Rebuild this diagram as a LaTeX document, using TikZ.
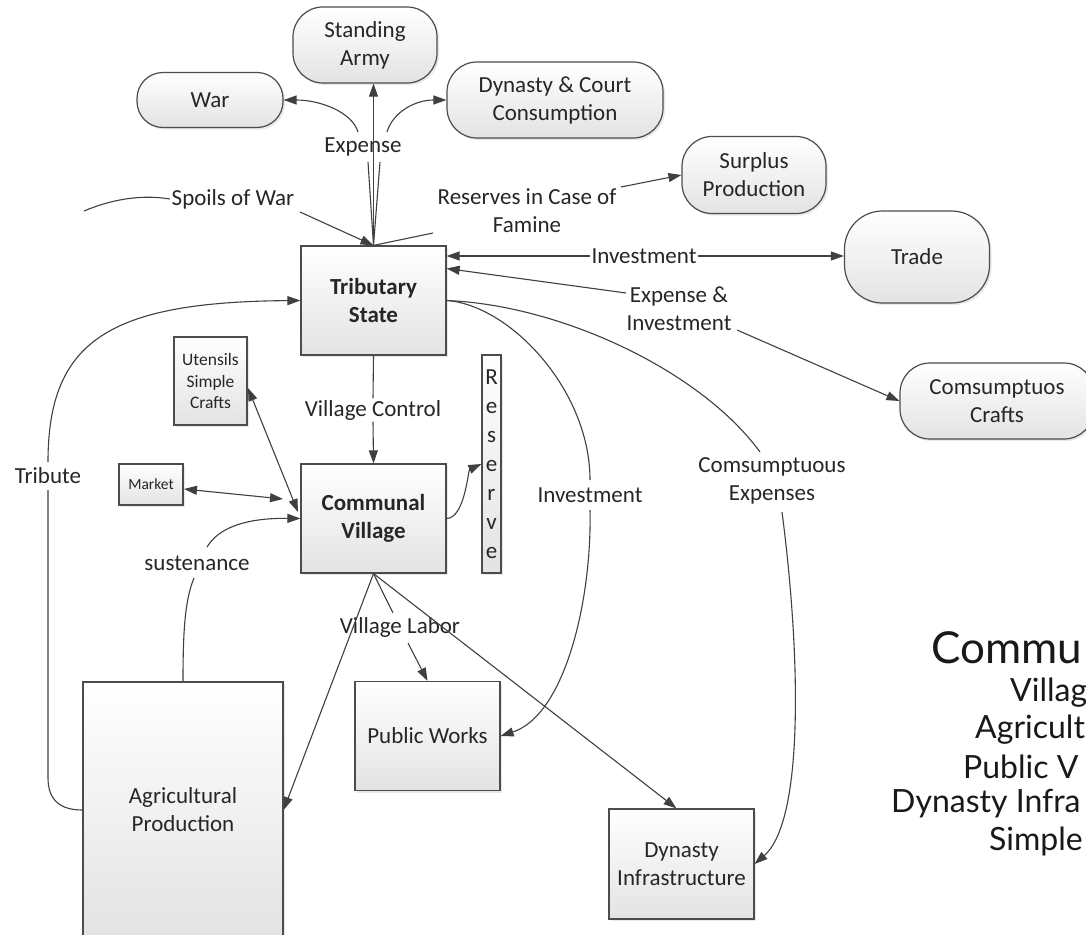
\documentclass[tikz,border=0pt]{standalone}
\usepackage{fontspec}
\setmainfont{Carlito}
\newfontfamily\sidefont{Lato}
\usetikzlibrary{arrows.meta,shadows}
\begin{document}
\begin{tikzpicture}[x=1pt,y=-1pt,
  ln/.style={draw=black!75, line width=1.1pt},
  arr/.style={ln, -{Triangle[length=13pt,width=9pt]}},
  darr/.style={ln, {Triangle[length=13pt,width=9pt]}-{Triangle[length=13pt,width=9pt]}},
  boxbase/.style={draw=black!70, line width=1.2pt, top color=white, bottom color=black!11,
    drop shadow={opacity=0.18,shadow xshift=2pt,shadow yshift=-2pt},
    align=center, inner sep=0pt, font=\fontsize{23}{28}\selectfont, text=black!85},
  pill/.style={boxbase, rounded corners=#1},
  pill/.default=30pt,
  rect/.style={boxbase},
  lbl/.style={align=center, inner sep=1.5pt, font=\fontsize{23}{28}\selectfont, text=black!85},
  side/.style={anchor=west, inner sep=0pt, text=black!90, font=\sidefont\fontsize{#1}{#1}\selectfont},
]
\useasboundingbox (0,0) rectangle (1086,934);
\fill[white] (0,0) rectangle (1086,934);
\begin{scope}
\clip (0,0) rectangle (1086,934);

% ---------- boxes ----------
\node[pill, minimum width=144pt, minimum height=76pt] (SA) at (365,45) {Standing\\Army};
\node[pill=26pt, minimum width=146pt, minimum height=55pt] (War) at (210,100) {War};
\node[pill, minimum width=216pt, minimum height=76pt] (DC) at (555,100) {Dynasty \& Court\\Consumption};
\node[pill, minimum width=144pt, minimum height=77pt] (SP) at (754,175) {Surplus\\Production};
\node[pill=38pt, minimum width=145pt, minimum height=92pt] (TR) at (917,257) {Trade};
\node[pill, minimum width=194pt, minimum height=76pt] (CC) at (997,401) {Comsumptuos\\Crafts};

\node[rect, minimum width=145pt, minimum height=109pt, font=\fontsize{23}{28}\selectfont\bfseries] (TS) at (373.5,300.5) {Tributary\\State};
\node[rect, minimum width=73pt, minimum height=88pt, font=\fontsize{17.5}{21.5}\selectfont] (UT) at (210.5,381) {Utensils\\Simple\\Crafts};
\node[rect, minimum width=64pt, minimum height=41pt, font=\fontsize{15.5}{18}\selectfont] (MK) at (151,484.5) {Market};
\node[rect, minimum width=145pt, minimum height=109pt, font=\fontsize{23}{28}\selectfont\bfseries] (CV) at (373.5,518.5) {Communal\\Village};
\node[rect, minimum width=19pt, minimum height=218pt, font=\fontsize{23}{29}\selectfont] (RS) at (491.5,464) {R\\e\\s\\e\\r\\v\\e};
\node[rect, minimum width=200pt, minimum height=256pt] (AP) at (183,810) {Agricultural\\Production};
\node[rect, minimum width=145pt, minimum height=109pt] (PW) at (427.5,736) {Public Works};
\node[rect, minimum width=145pt, minimum height=110pt] (DI) at (681.5,864) {Dynasty\\Infrastructure};

% ---------- labels ----------
\node[lbl] (lExp) at (363,147) {Expense};
\node[lbl] (lSpoil) at (233,199) {Spoils of War};
\node[lbl] (lRes) at (527,211) {Reserves in Case of\\Famine};
\node[lbl] (lInv1) at (644,256) {Investment};
\node[lbl] (lEI) at (679,309) {Expense \&\\Investment};
\node[lbl] (lVC) at (373,410) {Village Control};
\node[lbl] (lTrib) at (48,476) {Tribute};
\node[lbl] (lSus) at (197,563) {sustenance};
\node[lbl] (lVL) at (400,627) {Village Labor};
\node[lbl] (lInv2) at (590,495) {Investment};
\node[lbl] (lCE) at (772,481) {Comsumptuous\\Expenses};

% ---------- side text ----------
\node[side=44] (s1) at (931,648) {Commu};
\node[side=32] (s2) at (1010,693) {Villag};
\node[side=32] (s3) at (975,730) {Agricult};
\node[side=32] (s4) at (963,767) {Public V};
\node[side=32] (s5) at (891,804) {Dynasty Infra};
\node[side=32, anchor=east] (s6) at (1083,841) {Simple};

% ---------- attachment points ----------
\coordinate (eBL) at (368,162);
\coordinate (eBR) at (380,162);
\coordinate (eTL) at (358,132);
\coordinate (eTR) at (387,132);
\coordinate (spL) at (84,211);
\coordinate (spR) at (300,212);
\coordinate (rsA) at (433,233);
\coordinate (rsB) at (621,187);
\coordinate (eiA) at (626,293);
\coordinate (eiB) at (737,330);
\coordinate (mkA) at (184,489);
\coordinate (mkB) at (283,499);
\coordinate (utA) at (248,388);
\coordinate (utB) at (298,512);
\coordinate (suA) at (194,578);
\coordinate (suB) at (207,547);
\coordinate (vlA) at (393,613);
\coordinate (vlB) at (408,643);
\coordinate (ivA) at (590,480);
\coordinate (ivB) at (590,510);
\coordinate (ceA) at (760,452);
\coordinate (ceB) at (782,512);
\coordinate (trA) at (48,462);
\coordinate (trB) at (48,490);
\coordinate (trC) at (48,778);

% ---------- connectors ----------
\draw[arr] (TS.north) -- (TS.north |- SA.south);
\draw[ln] (TS.north) -- (eBL);
\draw[ln] (TS.north) -- (eBR);
\draw[arr] (eTL) .. controls (352,112) and (320,100) .. (War.east);
\draw[arr] (eTR) .. controls (393,112) and (415,100) .. (DC.west);

\draw[ln] (spL) .. controls (110,200) and (140,194) .. (lSpoil.west);
\draw[arr] (spR) -- (TS.north);

\draw[ln] (TS.north) -- (rsA);
\draw[arr] (rsB) -- (SP.west);

\draw[arr] (lInv1.west) -- (lInv1.west -| TS.east);
\draw[arr] (lInv1.east) -- (lInv1.east -| TR.west);

\draw[arr] (eiA) -- ([yshift=32pt]TS.east);
\draw[arr] (eiB) -- (CC.west);

\draw[ln] (trB) -- (trC) .. controls (48,800) and (60,810) .. (AP.west);
\draw[arr] (trA) .. controls (48,340) and (110,302) .. (TS.west);

\draw[darr] (utA) -- (utB);
\draw[darr] (mkA) -- (mkB);

\draw[ln] (AP.north) .. controls (183,630) and (185,600) .. (suA);
\draw[arr] (suB) .. controls (222,522) and (260,518) .. (CV.west);

\draw[ln] (TS.south) -- (lVC.north);
\draw[arr] (lVC.south) -- (CV.north);

\draw[arr] (CV.east) .. controls (465,518) and (468,470) .. (RS.west);

\draw[ln] (CV.south) -- (vlA);
\draw[arr] (vlB) -- (PW.north);
\draw[arr] (CV.south) -- (AP.east);
\draw[arr] (CV.south) -- ([xshift=-5pt]DI.north);

\draw[ln] (TS.east) .. controls (510,305) and (590,390) .. (ivA);
\draw[arr] (ivB) .. controls (592,600) and (565,715) .. (PW.east);

\draw[ln] (TS.east) .. controls (560,305) and (700,370) .. (ceA);
\draw[arr] (ceB) .. controls (800,650) and (805,820) .. (DI.east);
\end{scope}
\end{tikzpicture}
\end{document}
